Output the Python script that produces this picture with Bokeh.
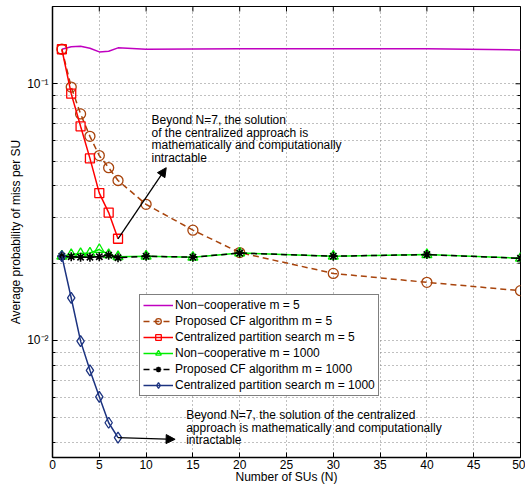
import math
from bokeh.plotting import figure
from bokeh.models import (FixedTicker, Legend, LegendItem, Label,
                          Arrow, NormalHead, CustomJSTickFormatter, Range1d)
from bokeh.embed import file_html
from bokeh.resources import INLINE

# ---------------- data ----------------
N = [1, 2, 3, 4, 5, 6, 7, 10, 15, 20, 30, 40, 50]
N_central = [1, 2, 3, 4, 5, 6, 7]
noncoop_m5 = [0.1363, 0.1395, 0.1400, 0.1376, 0.1331, 0.1339, 0.1380, 0.1363, 0.1367,
              0.1370, 0.1370, 0.1368, 0.1355]
cf_m5 = [0.1363, 0.0971, 0.0763, 0.0624, 0.0525, 0.0471, 0.0420, 0.0339, 0.0269,
         0.0220, 0.01825, 0.01684, 0.01563]
central_m5 = [0.1363, 0.0915, 0.0683, 0.0512, 0.0375, 0.0315, 0.0249]
noncoop_m1000 = [0.0213, 0.0216, 0.0218, 0.0219, 0.0226, 0.0216, 0.0212, 0.0213, 0.0211,
                 0.0219, 0.0213, 0.0216, 0.0209]
cf_m1000 = [0.0213, 0.0212, 0.0211, 0.0211, 0.0212, 0.0215, 0.0210, 0.0213, 0.0211,
            0.0219, 0.0213, 0.0216, 0.0209]
central_m1000 = [0.0213, 0.01464, 0.00994, 0.00765, 0.00603, 0.00478, 0.00418]

x_ticks = [0, 5, 10, 15, 20, 25, 30, 35, 40, 45, 50]
y_ticks = [0.01, 0.1]
y_minor = [0.004, 0.005, 0.006, 0.007, 0.008, 0.009,
           0.02, 0.03, 0.04, 0.05, 0.06, 0.07, 0.08, 0.09, 0.2]

labels = ["Non\u2212cooperative m = 5", "Proposed CF algorithm m = 5",
          "Centralized partition search m = 5", "Non\u2212cooperative m = 1000",
          "Proposed CF algorithm m = 1000", "Centralized partition search m = 1000"]

note1 = ("Beyond N=7, the solution\nof  the centralized approach is\n"
         "mathematically and computationally\nintractable")
note2 = ("Beyond N=7, the solution of the centralized\n"
         "approach is mathematically and computationally\nintractable")

FONT = "Liberation Sans"
X0, X1 = 0, 50
Y0, Y1 = 0.0035, 0.2

p = figure(width=525, height=486, x_range=Range1d(X0, X1), y_range=Range1d(Y0, Y1),
           y_axis_type="log", output_backend="svg", toolbar_location=None,
           min_border_left=52, min_border_right=5, min_border_top=6, min_border_bottom=0)
p.background_fill_color = "white"
p.border_fill_color = "white"
p.outline_line_color = "black"
p.outline_line_width = 1

xt = FixedTicker(ticks=x_ticks)
yt = FixedTicker(ticks=y_ticks, minor_ticks=y_minor)
yfmt = CustomJSTickFormatter(code="return tick < 0.05 ? '10\u207b\u00b2' : '10\u207b\u00b9';")

for ax in p.xaxis:
    ax.ticker = xt
    ax.axis_label = "Number of SUs (N)"
for ax in p.yaxis:
    ax.ticker = yt
    ax.formatter = yfmt
    ax.axis_label = "Average probability of miss per SU"

for ax in list(p.xaxis) + list(p.yaxis):
    ax.major_label_text_font = FONT
    ax.major_label_text_font_size = "12px"
    ax.major_label_text_color = "black"
    ax.axis_label_text_font = FONT
    ax.axis_label_text_font_size = "12px"
    ax.axis_label_text_font_style = "normal"
    ax.axis_label_text_color = "black"
    ax.axis_line_width = 1.5
    ax.axis_line_color = "black"
    ax.major_tick_in = 5
    ax.major_tick_out = 0
    ax.minor_tick_in = 3
    ax.minor_tick_out = 0
    ax.major_tick_line_color = "black"
    ax.minor_tick_line_color = "black"

p.xaxis.minor_tick_line_color = None
p.xaxis.major_label_standoff = 2
p.xaxis.axis_label_standoff = -2
p.yaxis.major_label_standoff = 4
p.yaxis.axis_label_standoff = 1

p.xgrid.ticker = xt
p.ygrid.ticker = yt
p.xgrid.grid_line_color = "#808080"
p.xgrid.grid_line_dash = "1 3"
p.ygrid.grid_line_color = "#808080"
p.ygrid.grid_line_dash = "1 3"
p.ygrid.minor_grid_line_color = "#808080"
p.ygrid.minor_grid_line_dash = "1 3"

# inward box ticks on the top and right edges (half of each dash is clipped by the frame)
p.scatter(x_ticks, [Y1] * len(x_ticks), marker="dash", angle=math.pi / 2, size=10,
          line_color="black", line_width=1)
p.scatter([X1] * len(y_ticks), y_ticks, marker="dash", size=10, line_color="black", line_width=1)
p.scatter([X1] * len(y_minor), y_minor, marker="dash", size=6, line_color="black", line_width=1)

MAG = "#c000c0"
BROWN = "#a8440c"
RED = "#ff0000"
GREEN = "#00ee00"
NAVY = "#1c3380"

r1 = p.line(N, noncoop_m5, line_color=MAG, line_width=1.5)

r2a = p.line(N, cf_m5, line_color=BROWN, line_width=1.5, line_dash="6 4")
r2b = p.scatter(N, cf_m5, marker="circle", size=10, fill_color=None, line_color=BROWN, line_width=1.3)

r3a = p.line(N_central, central_m5, line_color=RED, line_width=1.5)
r3b = p.scatter(N_central, central_m5, marker="square", size=9, fill_color=None, line_color=RED, line_width=1.3)

r4a = p.line(N, noncoop_m1000, line_color=GREEN, line_width=1.5)
r4b = p.scatter(N, noncoop_m1000, marker="triangle", size=10, fill_color=None, line_color=GREEN, line_width=1.3)

r5a = p.line(N, cf_m1000, line_color="black", line_width=1.5, line_dash="6 4")
r5b = p.scatter(N, cf_m1000, marker="asterisk", size=9, line_color="black", line_width=1.6)

r6a = p.line(N_central, central_m1000, line_color=NAVY, line_width=1.5)
r6b = p.scatter(N_central, central_m1000, marker="diamond", size=11, fill_color=None, line_color=NAVY, line_width=1.3)

legend = Legend(items=[
    LegendItem(label=labels[0], renderers=[r1]),
    LegendItem(label=labels[1], renderers=[r2a, r2b]),
    LegendItem(label=labels[2], renderers=[r3a, r3b]),
    LegendItem(label=labels[3], renderers=[r4a, r4b]),
    LegendItem(label=labels[4], renderers=[r5a, r5b]),
    LegendItem(label=labels[5], renderers=[r6a, r6b]),
], location=(87, 61))
legend.label_text_font = FONT
legend.label_text_font_size = "12px"
legend.label_text_color = "black"
legend.border_line_color = "black"
legend.border_line_width = 1
legend.background_fill_color = "white"
legend.background_fill_alpha = 1
legend.padding = 3
legend.spacing = 2
legend.glyph_height = 14
legend.glyph_width = 30
legend.label_height = 14
legend.label_standoff = 2
legend.margin = 0
p.add_layout(legend)

p.add_layout(Label(x=10.58, y=0.0770, text=note1, text_font=FONT, text_font_size="12px",
                   text_baseline="top", text_align="left", text_line_height=0.9,
                   text_color="black"))
p.add_layout(Label(x=14.28, y=0.00545, text=note2, text_font=FONT, text_font_size="12px",
                   text_baseline="top", text_align="left", text_line_height=0.9,
                   text_color="black"))

p.add_layout(Arrow(end=NormalHead(size=9, fill_color="black", line_color="black"),
                   x_start=N_central[-1], y_start=central_m5[-1], x_end=12.15, y_end=0.0471,
                   line_color="black", line_width=1.3))
p.add_layout(Arrow(end=NormalHead(size=9, fill_color="black", line_color="black"),
                   x_start=N_central[-1], y_start=central_m1000[-1], x_end=13.1, y_end=0.00412,
                   line_color="black", line_width=1.3))

open("out.html", "w").write(file_html(p, INLINE))
